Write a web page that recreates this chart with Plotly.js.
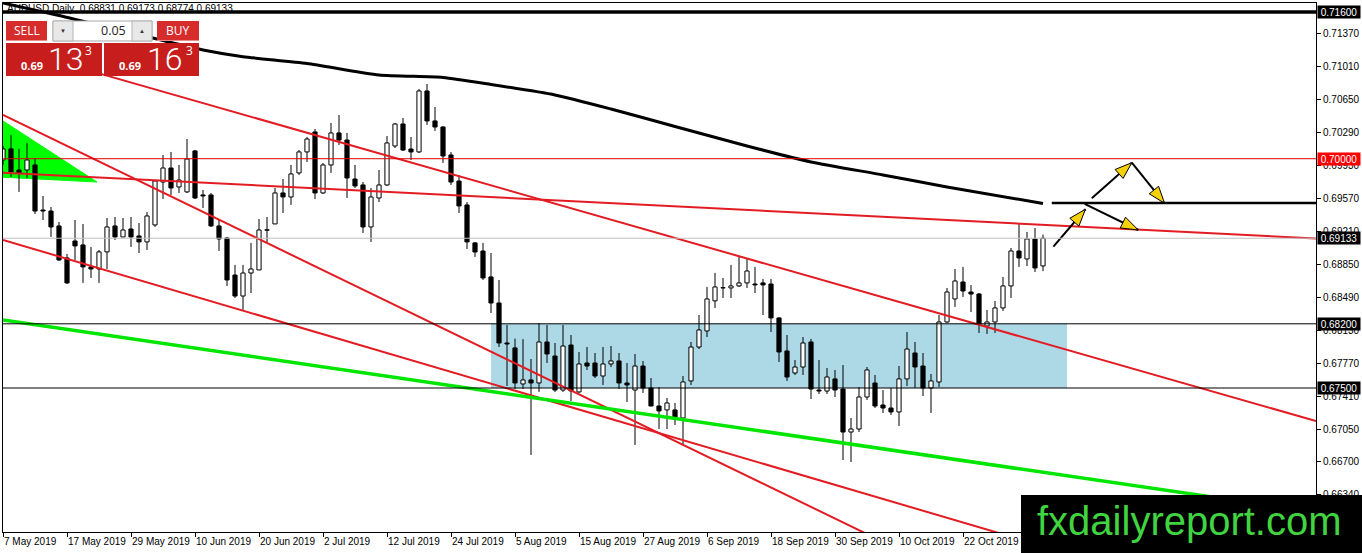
<!DOCTYPE html>
<html><head><meta charset="utf-8">
<script src="https://cdn.plot.ly/plotly-3.0.1.min.js"></script>
<style>html,body{margin:0;padding:0;background:#fff;}#chart{width:1362px;height:553px;}</style>
</head><body><div id="chart"></div>
<script>
// ---- candle data (AUDUSD Daily, one bar per trading day from 7 May 2019) ----
const openP = [0.69986,0.70107,0.69877,0.69877,0.69932,0.69441,0.69430,0.69267,0.68918,0.69103,
0.69060,0.68820,0.68798,0.68984,0.69267,0.69147,0.69234,0.69158,0.69093,0.69278,
0.69746,0.69899,0.69692,0.69638,0.70085,0.69605,0.69605,0.69267,0.69136,0.68732,
0.68503,0.68754,0.68787,0.69220,0.69289,0.69627,0.69583,0.69845,0.70074,0.70292,
0.69627,0.69932,0.70281,0.70204,0.69779,0.69714,0.69256,0.69572,0.69714,0.70139,
0.70379,0.70106,0.70074,0.70739,0.70412,0.70346,0.70041,0.69757,0.69496,0.69082,
0.68994,0.68711,0.68427,0.67991,0.67937,0.67544,0.67588,0.67555,0.68002,0.67849,
0.67478,0.67969,0.67457,0.67773,0.67773,0.67631,0.67762,0.67795,0.67555,0.67478,
0.67740,0.67500,0.67304,0.67261,0.67261,0.67173,0.67577,0.67947,0.68122,0.68450,
0.68591,0.68591,0.68613,0.68646,0.68634,0.68646,0.68634,0.68264,0.67904,0.67664,
0.67729,0.68002,0.67478,0.67467,0.67599,0.67489,0.67020,0.67053,0.67402,0.67555,
0.67315,0.67282,0.67239,0.67599,0.67882,0.67740,0.67500,0.67566,0.68220,0.68471,
0.68656,0.68547,0.68525,0.68176,0.68220,0.68373,0.68613,0.68994,0.68907,0.69125,
0.68831];
const highP = [0.70139,0.70259,0.70107,0.70172,0.70008,0.69594,0.69474,0.69310,0.68962,0.69332,
0.69288,0.69038,0.69005,0.69354,0.69365,0.69354,0.69365,0.69299,0.69420,0.69768,
0.70041,0.70074,0.69932,0.70215,0.70096,0.69659,0.69627,0.69332,0.69147,0.68842,
0.68842,0.69082,0.69343,0.69365,0.69681,0.69779,0.69932,0.70095,0.70237,0.70324,
0.69954,0.70390,0.70477,0.70281,0.69932,0.69746,0.69681,0.69877,0.70248,0.70390,
0.70444,0.70237,0.70761,0.70815,0.70564,0.70357,0.70074,0.69823,0.69528,0.69093,
0.69082,0.68972,0.68678,0.68187,0.68039,0.68033,0.67816,0.68209,0.68187,0.67991,
0.68187,0.68078,0.67893,0.67947,0.67882,0.67947,0.67958,0.67882,0.67773,0.67871,
0.67795,0.67609,0.67511,0.67391,0.67337,0.67631,0.68002,0.68296,0.68602,0.68755,
0.68700,0.68842,0.68929,0.68907,0.68820,0.68689,0.68689,0.68270,0.68078,0.67805,
0.68056,0.68035,0.67805,0.67718,0.67697,0.67751,0.67173,0.67511,0.67729,0.67642,
0.67478,0.67500,0.67740,0.68111,0.68002,0.67882,0.67653,0.68296,0.68591,0.68798,
0.68820,0.68623,0.68536,0.68351,0.68449,0.68711,0.69027,0.69289,0.69201,0.69245,
0.69173];
const lowP = [0.69932,0.69801,0.69638,0.69790,0.69397,0.69332,0.69147,0.68886,0.68635,0.68896,
0.68646,0.68700,0.68646,0.68798,0.69114,0.69147,0.69038,0.68972,0.69005,0.69256,
0.69561,0.69605,0.69627,0.69627,0.69561,0.69463,0.69256,0.68994,0.68613,0.68482,
0.68351,0.68536,0.68787,0.69082,0.69289,0.69408,0.69496,0.69823,0.69965,0.69561,
0.69616,0.69845,0.70150,0.69572,0.69681,0.69190,0.69093,0.69528,0.69703,0.70117,
0.70084,0.69986,0.70063,0.70368,0.70303,0.69954,0.69714,0.69408,0.69016,0.68929,
0.68678,0.68318,0.67947,0.67522,0.67489,0.67489,0.66770,0.67457,0.67773,0.67457,
0.67457,0.67358,0.67446,0.67697,0.67609,0.67533,0.67729,0.67489,0.67348,0.66879,
0.67446,0.67300,0.67053,0.67053,0.67097,0.66879,0.67533,0.67925,0.68056,0.68373,
0.68482,0.68482,0.68602,0.68591,0.68536,0.68296,0.68111,0.67784,0.67577,0.67642,
0.67642,0.67380,0.67435,0.67435,0.67402,0.66715,0.66693,0.67020,0.67370,0.67282,
0.67228,0.67206,0.67086,0.67522,0.67500,0.67413,0.67228,0.67511,0.68209,0.68384,
0.68493,0.68329,0.68100,0.68090,0.68100,0.68340,0.68482,0.68820,0.68830,0.68765,
0.68774];
const closeP = [0.70107,0.69856,0.69845,0.69986,0.69430,0.69430,0.69256,0.68896,0.68646,0.69049,
0.68820,0.68798,0.68984,0.69256,0.69147,0.69223,0.69147,0.69093,0.69376,0.69757,
0.69899,0.69681,0.69768,0.69997,0.69572,0.69594,0.69267,0.69125,0.68678,0.68503,
0.68754,0.68798,0.69223,0.69226,0.69627,0.69583,0.69834,0.70074,0.70215,0.69627,
0.69932,0.70281,0.70204,0.69790,0.69703,0.69256,0.69583,0.69714,0.70172,0.70379,
0.70095,0.70074,0.70739,0.70412,0.70346,0.70030,0.69746,0.69485,0.69093,0.68983,
0.68700,0.68427,0.67991,0.67980,0.67555,0.67588,0.67555,0.68002,0.67871,0.67478,
0.67958,0.67468,0.67762,0.67740,0.67631,0.67762,0.67795,0.67555,0.67533,0.67740,
0.67500,0.67304,0.67250,0.67337,0.67173,0.67566,0.67947,0.68133,0.68471,0.68602,
0.68594,0.68613,0.68646,0.68776,0.68624,0.68624,0.68264,0.67893,0.67620,0.67729,
0.67991,0.67489,0.67467,0.67620,0.67478,0.67020,0.67053,0.67402,0.67697,0.67304,
0.67282,0.67239,0.67599,0.67925,0.67729,0.67500,0.67577,0.68220,0.68547,0.68667,
0.68558,0.68525,0.68198,0.68220,0.68373,0.68613,0.68994,0.68918,0.69125,0.68809,
0.69133];

// moving average (black curve) read at these bar indices
const maIdx = [0,7,25,30,38,47,55,61,69,76,84,93,101,110,118,130];
const maVal = [0.71698,0.71562,0.71186,0.71113,0.71039,0.70913,0.70886,0.70810,0.70695,0.70542,0.70352,0.70139,0.69965,0.69823,0.69692,0.69512];

// axis labels
const dateTickIdx = [0,8,16,24,32,40,48,56,64,72,80,88,96,104,112,120];
const dateTickLabels = ["7 May 2019","17 May 2019","29 May 2019","10 Jun 2019","20 Jun 2019","2 Jul 2019","12 Jul 2019","24 Jul 2019","5 Aug 2019","15 Aug 2019","27 Aug 2019","6 Sep 2019","18 Sep 2019","30 Sep 2019","10 Oct 2019","22 Oct 2019"];
const priceTicks = [0.7137,0.7101,0.7065,0.7029,0.6993,0.6957,0.6921,0.6885,0.6849,0.6813,0.6777,0.6741,0.6705,0.6670,0.6634];
const levelPrices = [0.71600,0.70000,0.69133,0.68200,0.67500];
const levelBoxColors = ["#000000","#ff0000","#000000","#000000","#000000"];
const title = "AUDUSD,Daily  0.68831 0.69173 0.68774 0.69133";

// ---- drawing objects (analyst annotations) ----
const redTrend = [ [[-0.375,0.69850],[164.125,0.69130]], [[0,0.70477],[110,0.65823]], [[0,0.69114],[130,0.65777]], [[5,0.71105],[164.125,0.67140]] ];
const greenTrend = [[0,0.68242],[164.125,0.66145]];
const greenTri = [[-0.5,0.70440],[11.75,0.69746],[-0.5,0.69801]];
const boxZone = {i0:61, i1:133, p0:0.67500, p1:0.68200};
const segLevel = {i0:131.1, p:0.69518};
const arrows = [ [[131.3,0.69041],[135.3,0.69449]], [[136.1,0.69569],[141.1,0.69957]], [[141.1,0.69957],[145.2,0.69514]], [[135.2,0.69507],[141.9,0.69223]] ];

// ---- geometry ----
const W=1362,H=553,ML=3,MR=46,MT=3,MB=21;
const PW=W-ML-MR, PH=H-MT-MB;
const X0=0, X1=164.125, Y0=0.65930, Y1=0.71698;
const toPx=(i,p)=>[ML+(i-X0)/(X1-X0)*PW, MT+(Y1-p)/(Y1-Y0)*PH];
const fromPx=(x,y)=>[X0+(x-ML)/PW*(X1-X0), Y1-(y-MT)/PH*(Y1-Y0)];
const pX=x=>(x-ML)/PW, pY=y=>(H-MB-y)/PH;

const idx = openP.map((_,i)=>i);
const traces = [];
// bodies (bar layer sits below scatter layer)
traces.push({type:'bar',x:idx,base:idx.map(i=>Math.min(openP[i],closeP[i])),
  y:idx.map(i=>Math.max(Math.abs(closeP[i]-openP[i]),0.00003)),width:0.52,
  marker:{color:idx.map(i=>closeP[i]>=openP[i]?'#ffffff':'#000000'),line:{color:'#000',width:1}},hoverinfo:'skip'});
// wicks: only outside the bodies
const wx=[],wy=[];
idx.forEach(i=>{
  const bt=Math.max(openP[i],closeP[i]), bb=Math.min(openP[i],closeP[i]);
  wx.push(i,i,null,i,i,null); wy.push(bt,highP[i],null,lowP[i],bb,null);
});
traces.push({type:'scatter',mode:'lines',x:wx,y:wy,line:{color:'#000',width:1},hoverinfo:'skip'});
// MA
traces.push({type:'scatter',mode:'lines',x:maIdx,y:maVal,line:{color:'#000',width:3,shape:'spline',smoothing:0.6},hoverinfo:'skip'});
// red trend lines
redTrend.forEach(s=>traces.push({type:'scatter',mode:'lines',x:[s[0][0],s[1][0]],y:[s[0][1],s[1][1]],line:{color:'#e31b23',width:2},hoverinfo:'skip'}));
traces.push({type:'scatter',mode:'lines',x:[greenTrend[0][0],greenTrend[1][0]],y:[greenTrend[0][1],greenTrend[1][1]],line:{color:'#00e600',width:3.5},hoverinfo:'skip'});
// arrows
function head(from,to,L,Wd){
  const [ax,ay]=toPx(from[0],from[1]),[bx,by]=toPx(to[0],to[1]);
  const d=Math.hypot(bx-ax,by-ay),ux=(bx-ax)/d,uy=(by-ay)/d;
  const cx=bx-L*ux,cy=by-L*uy;
  const pts=[[bx,by],[cx-Wd*uy,cy+Wd*ux],[cx+Wd*uy,cy-Wd*ux],[bx,by]].map(p=>fromPx(p[0],p[1]));
  return {type:'scatter',mode:'lines',x:pts.map(p=>p[0]),y:pts.map(p=>p[1]),fill:'toself',fillcolor:'#f5d10a',line:{color:'#000',width:1},hoverinfo:'skip'};
}
arrows.forEach(a=>traces.push({type:'scatter',mode:'lines',x:[a[0][0],a[1][0]],y:[a[0][1],a[1][1]],line:{color:'#000',width:2},hoverinfo:'skip'}));
arrows.forEach(a=>traces.push(head(a[0],a[1],17,6)));

// ---- shapes ----
const shapes=[];
shapes.push({type:'rect',xref:'x',yref:'y',x0:boxZone.i0,x1:boxZone.i1,y0:boxZone.p0,y1:boxZone.p1,fillcolor:'#add8e6',line:{width:0},layer:'below'});
shapes.push({type:'path',xref:'x',yref:'y',path:'M'+greenTri.map(v=>v[0]+','+v[1]).join(' L')+' Z',fillcolor:'#00ff00',line:{color:'#00ff00',width:1},layer:'below'});
const hl=(p,color,w)=>({type:'line',xref:'paper',yref:'y',x0:0,x1:1,y0:p,y1:p,line:{color:color,width:w},layer:'above'});
shapes.push(hl(levelPrices[2],'#c0c0c0',1));
shapes.push(hl(levelPrices[0],'#000',3.5));
shapes.push(hl(levelPrices[1],'#e00000',1));
shapes.push(hl(levelPrices[3],'#000',1));
shapes.push(hl(levelPrices[4],'#000',1));
shapes.push({type:'line',xref:'x',yref:'y',x0:segLevel.i0,x1:X1,y0:segLevel.p,y1:segLevel.p,line:{color:'#000',width:2.5},layer:'above'});
const rect=(x0,y0,x1,y1,fill,lc,lw)=>({type:'rect',xref:'paper',yref:'paper',x0:pX(x0),x1:pX(x1),y0:pY(y1),y1:pY(y0),fillcolor:fill,line:{color:lc||fill,width:lw||0},layer:'above'});
// trading panel
shapes.push(rect(6,21,47,41,'#d62c2c'));
shapes.push(rect(6,40,47,41,'#ee8a8a'));
shapes.push(rect(53,21,152,41,'#ffffff','#a8a8a8',1));
shapes.push(rect(53,21,73,41,'#e8e8e8','#b4b4b4',1));
shapes.push(rect(132,21,152,41,'#e8e8e8','#b4b4b4',1));
shapes.push(rect(157,21,199,41,'#d62c2c'));
shapes.push(rect(157,40,199,41,'#ee8a8a'));
shapes.push(rect(6,43,102,76,'#c81d1d'));
shapes.push(rect(104,43,199,76,'#c81d1d'));
// watermark
shapes.push(rect(1021,495,1362,553,'#000000'));

// ---- annotations ----
const ann=[];
const txt=(x,y,t,size,color,anchor,extra)=>Object.assign({xref:'paper',yref:'paper',x:pX(x),y:pY(y),text:t,showarrow:false,xanchor:anchor||'center',yanchor:'middle',font:{family:'Open Sans, sans-serif',size:size,color:color}},extra||{});
ann.push(txt(5,9,title,10,'#000','left',{font:{family:'Liberation Sans, Arial, sans-serif',size:10,color:'#000'}}));
ann.push(txt(26.5,31,'SELL',12,'#fff'));
ann.push(txt(178,31,'BUY',12,'#fff'));
ann.push(txt(128,31,'0.05',12.5,'#222','right'));
ann.push(txt(63,31,'▼',6,'#333'));
ann.push(txt(142,31,'▲',6,'#333'));
ann.push(txt(32,65,'<b>0.69</b>',11,'#fff'));
ann.push(txt(66,59,'13',32,'#fff','center',{font:{family:'Roboto, sans-serif',size:32,color:'#fff',weight:300}}));
ann.push(txt(88,51,'3',12,'#fff'));
ann.push(txt(130,65,'<b>0.69</b>',11,'#fff'));
ann.push(txt(165,59,'16',32,'#fff','center',{font:{family:'Roboto, sans-serif',size:32,color:'#fff',weight:300}}));
ann.push(txt(189,51,'3',12,'#fff'));
ann.push(txt(1189,521,'fxdailyreport.com',40,'#40d440','center',{font:{family:'Liberation Sans, Arial, sans-serif',size:40,color:'#40d440'}}));
levelPrices.forEach((p,k)=>ann.push({xref:'paper',yref:'y',x:pX(1317),y:p,xanchor:'left',yanchor:'middle',text:p.toFixed(5),showarrow:false,bgcolor:levelBoxColors[k],width:40,height:10,borderpad:1,align:'center',font:{family:'Liberation Sans, Arial, sans-serif',size:10,color:'#fff'}}));

const layout={width:W,height:H,margin:{l:ML,r:MR,t:MT,b:MB,pad:0},paper_bgcolor:'#fff',plot_bgcolor:'#fff',showlegend:false,
  xaxis:{type:'linear',range:[X0,X1],tickvals:dateTickIdx,ticktext:dateTickLabels,ticks:'outside',ticklen:4,tickcolor:'#000',ticklabelposition:'outside right',tickangle:0,
    showgrid:false,zeroline:false,showline:true,mirror:true,linecolor:'#000',linewidth:1,tickfont:{family:'Liberation Sans, Arial, sans-serif',size:10,color:'#000'},fixedrange:true},
  yaxis:{side:'right',range:[Y0,Y1],tickvals:priceTicks,ticktext:priceTicks.map(v=>v.toFixed(5)),ticks:'outside',ticklen:4,tickcolor:'#000',
    showgrid:false,zeroline:false,showline:true,mirror:true,linecolor:'#000',linewidth:1,tickfont:{family:'Liberation Sans, Arial, sans-serif',size:10,color:'#000'},fixedrange:true},
  bargap:0,shapes:shapes,annotations:ann};
Plotly.newPlot('chart',traces,layout,{staticPlot:true,displayModeBar:false});
</script></body></html>
